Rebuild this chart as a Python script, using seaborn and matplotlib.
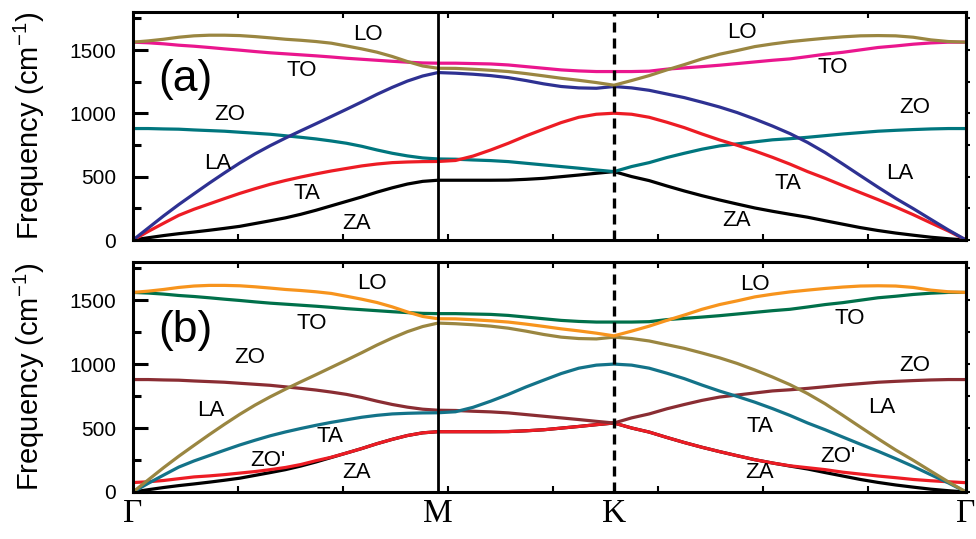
import numpy as np
import pandas as pd
import matplotlib
matplotlib.use("Agg")
import matplotlib.pyplot as plt
import seaborn as sns
from matplotlib.ticker import MultipleLocator

# ---------------- data ----------------
# high-symmetry path lengths (1/Angstrom), lattice constant 2.5 A
a_lat = 2.5
seg_GM = 2 * np.pi / (np.sqrt(3) * a_lat)
seg_MK = 2 * np.pi / (3 * a_lat)
seg_KG = 4 * np.pi / (3 * a_lat)
k_path = np.concatenate([
    np.linspace(0, seg_GM, 21),
    np.linspace(seg_GM, seg_GM + seg_MK, 11)[1:],
    np.linspace(seg_GM + seg_MK, seg_GM + seg_MK + seg_KG, 21)[1:],
])
sym_labels = ["Γ", "M", "K", "Γ"]

# frequencies (cm^-1): Gamma->M (21), M->K (10), K->Gamma (20)
LO = [1562, 1572, 1585, 1601, 1612, 1617, 1617, 1614, 1606, 1596, 1585, 1577, 1567, 1554, 1532, 1509, 1483, 1449, 1409, 1374, 1356,
      1355, 1348, 1340, 1330, 1314, 1296, 1277, 1261, 1243, 1222,
      1259, 1298, 1343, 1385, 1430, 1467, 1496, 1527, 1548, 1566, 1580, 1593, 1604, 1612, 1614, 1612, 1601, 1580, 1567, 1562]
TO = [1562, 1557, 1549, 1538, 1530, 1520, 1509, 1499, 1488, 1478, 1470, 1462, 1454, 1445, 1435, 1427, 1419, 1411, 1404, 1398, 1396,
      1396, 1393, 1390, 1382, 1369, 1356, 1343, 1335, 1330, 1330,
      1330, 1333, 1349, 1359, 1369, 1380, 1393, 1406, 1419, 1430, 1448, 1467, 1482, 1501, 1520, 1532, 1546, 1556, 1562, 1562]
LA = [0, 95, 190, 280, 365, 449, 530, 608, 680, 745, 805, 862, 918, 975, 1032, 1090, 1150, 1205, 1255, 1295, 1322,
      1317, 1309, 1298, 1282, 1259, 1233, 1212, 1201, 1198, 1212,
      1201, 1182, 1153, 1124, 1088, 1050, 1006, 955, 900, 840, 770, 690, 600, 508, 417, 329, 248, 163, 79, 0]
TA = [0, 68, 132, 195, 243, 285, 327, 368, 405, 440, 470, 497, 522, 545, 565, 585, 600, 611, 616, 619, 620,
      628, 663, 711, 764, 822, 875, 927, 969, 993, 1001,
      993, 969, 930, 887, 837, 790, 748, 703, 653, 599, 540, 487, 430, 374, 319, 261, 200, 135, 71, 0]
ZO = [880, 880, 877, 875, 869, 864, 859, 851, 843, 835, 823, 811, 798, 782, 764, 740, 711, 685, 664, 648, 640,
      638, 632, 627, 619, 606, 593, 580, 567, 553, 540,
      580, 611, 651, 685, 717, 743, 759, 775, 791, 800, 811, 824, 837, 848, 859, 866, 872, 877, 880, 880]
ZA = [0, 18, 35, 50, 63, 77, 92, 108, 130, 152, 175, 203, 235, 270, 305, 340, 378, 412, 442, 463, 472,
      472, 472, 472, 473, 479, 487, 500, 513, 527, 540,
      501, 469, 427, 387, 350, 316, 284, 253, 227, 203, 180, 152, 125, 98, 75, 55, 38, 22, 10, 0]
ZOp = [74, 80, 90, 104, 118, 126, 136, 148, 160, 175, 192, 215, 245, 272, 305, 340, 378, 412, 442, 463, 472,
       472, 472, 472, 473, 479, 487, 500, 513, 527, 540,
       501, 469, 427, 387, 350, 316, 284, 253, 227, 205, 190, 175, 155, 140, 125, 112, 98, 88, 80, 73]

branches_a = {"ZA": ZA, "ZO": ZO, "TA": TA, "LA": LA, "TO": TO, "LO": LO}
branches_b = {"ZA": ZA, "ZO'": ZOp, "ZO": ZO, "TA": TA, "LA": LA, "TO": TO, "LO": LO}

pal_a = {"LO": "#9A8641", "TO": "#EA168E", "LA": "#2E3192", "TA": "#ED1C24",
         "ZO": "#00767E", "ZA": "#000000"}
pal_b = {"LO": "#F7941D", "TO": "#00704A", "LA": "#9A8641", "TA": "#137389",
         "ZO": "#8A2D33", "ZA": "#000000", "ZO'": "#ED1C24"}

# label positions (k, freq)
labels_a = [("LO", 1.118, 1620), ("TO", 0.804, 1335), ("ZO", 0.462, 988),
            ("LA", 0.405, 608), ("TA", 0.828, 371), ("ZA", 1.066, 134),
            ("LO", 2.898, 1635), ("TO", 3.331, 1359), ("ZO", 3.722, 1043),
            ("LA", 3.650, 529), ("TA", 3.117, 450), ("ZA", 2.874, 158)]
labels_b = [("LO", 1.137, 1629), ("TO", 0.852, 1315), ("ZO", 0.557, 1049),
            ("LA", 0.371, 634), ("TA", 0.938, 431), ("ZO'", 0.643, 250),
            ("ZA", 1.066, 149),
            ("LO", 2.960, 1621), ("TO", 3.412, 1354), ("ZO", 3.722, 987),
            ("LA", 3.564, 658), ("TA", 2.984, 509), ("ZO'", 3.355, 274),
            ("ZA", 2.984, 149)]

for _name, _vals in {**branches_a, "ZO'": ZOp}.items():
    assert len(_vals) == len(k_path), (_name, len(_vals), len(k_path))


def to_long(branches):
    rows = []
    for name, vals in branches.items():
        for kk, ff in zip(k_path, vals):
            rows.append((name, kk, ff))
    return pd.DataFrame(rows, columns=["branch", "k", "freq"])


# ---------------- figure ----------------
sns.set_style("ticks", {"axes.edgecolor": "black", "text.color": "black",
                        "xtick.color": "black", "ytick.color": "black",
                        "axes.labelcolor": "black"})
plt.rcParams["font.family"] = ["Liberation Sans", "DejaVu Sans"]
plt.rcParams["mathtext.default"] = "regular"

fig = plt.figure(figsize=(9.76, 5.39), dpi=100)
ax_a = fig.add_axes([0.1363, 0.5547, 0.8535, 0.4230])
ax_b = fig.add_axes([0.1363, 0.0872, 0.8535, 0.4267])

k_sym = [0, seg_GM, seg_GM + seg_MK, seg_GM + seg_MK + seg_KG]

for ax, branches, pal, labs, tag in [(ax_a, branches_a, pal_a, labels_a, "(a)"),
                                     (ax_b, branches_b, pal_b, labels_b, "(b)")]:
    df = to_long(branches)
    sns.lineplot(data=df, x="k", y="freq", hue="branch", hue_order=list(branches.keys()),
                 palette=pal, estimator=None, sort=False, legend=False, lw=2.3, ax=ax)
    ax.axvline(k_sym[1], color="black", lw=2.0, zorder=5)
    ax.axvline(k_sym[2], color="black", lw=2.4, ls=(0, (3.0, 1.8)), zorder=5)
    for txt, kx, fy in labs:
        ax.text(kx, fy, txt, ha="center", va="center", fontsize=16, color="black")
    ax.text(0.247, 1265, tag, ha="center", va="center", fontsize=32, color="black")

    ax.set_xlim(0, k_sym[-1])
    ax.set_ylim(0, 1800)
    ax.yaxis.set_major_locator(MultipleLocator(500))
    ax.yaxis.set_minor_locator(MultipleLocator(250))
    ax.tick_params(axis="y", which="major", direction="in", length=11, width=2.2,
                   labelsize=15, pad=12, right=False, colors="black")
    ax.tick_params(axis="y", which="minor", direction="in", length=6, width=2.2, right=False)
    sec = ax.secondary_yaxis("right")
    sec.yaxis.set_major_locator(MultipleLocator(250))
    sec.tick_params(axis="y", direction="out", length=3, width=1.5, labelright=False)
    sec.spines["right"].set_linewidth(2.2)

    ax.set_xticks(k_sym)
    ax.xaxis.set_minor_locator(MultipleLocator(0.5))
    ax.tick_params(axis="x", which="major", length=0, pad=5, top=False, colors="black")
    ax.tick_params(axis="x", which="minor", direction="in", length=4, width=1.5,
                   top=True, bottom=True)
    ax.set_xlabel("")
    ax.set_ylabel("Frequency (cm$^{-1}$)", fontsize=21, color="black")
    ax.yaxis.set_label_coords(-0.103, 0.5)
    for sp in ax.spines.values():
        sp.set_linewidth(2.2)
        sp.set_color("black")

ax_a.set_xticklabels([])
ax_b.set_xticklabels(sym_labels, fontsize=24, family=["Liberation Serif", "DejaVu Serif"])

fig.savefig("out.png", dpi=100)
